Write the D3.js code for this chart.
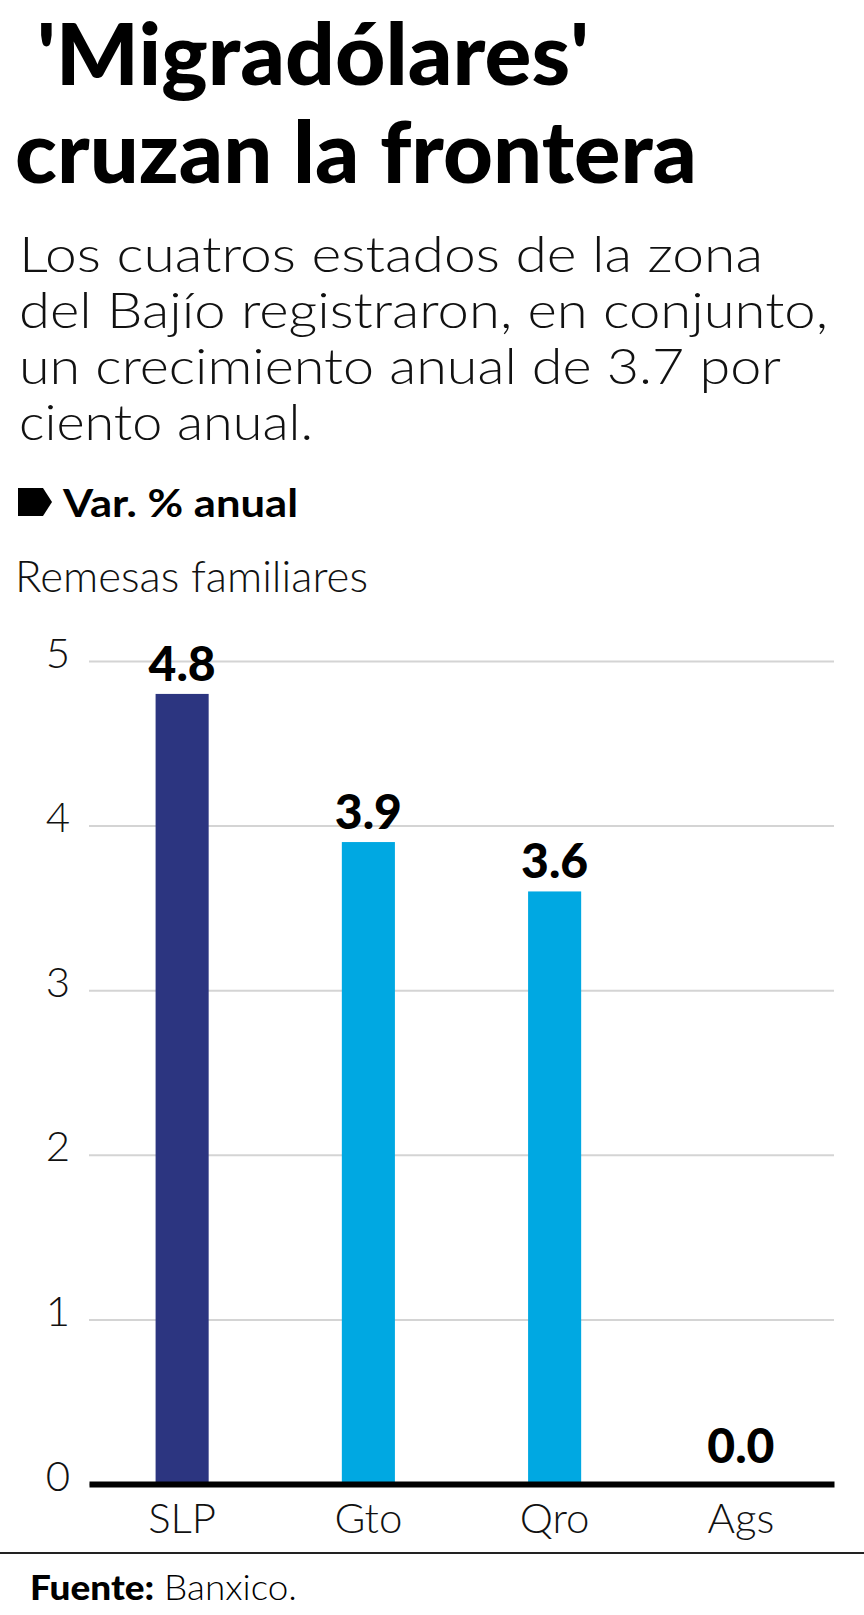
<!DOCTYPE html>
<html>
<head>
<meta charset="utf-8">
<script src="https://cdn.jsdelivr.net/npm/d3@7"></script>
<style>
  html, body { margin: 0; padding: 0; background: #fff; }
  svg { display: block; }
  text { font-family: Lato, "Open Sans", sans-serif; }
</style>
</head>
<body>
<script>
// ---- data ----
const categories = ["SLP", "Gto", "Qro", "Ags"];
const values = [4.8, 3.9, 3.6, 0.0];
const barColors = ["#2c3580", "#00a8e2", "#00a8e2", "#00a8e2"];
const yTicks = [0, 1, 2, 3, 4, 5];
const titleLines = ["'Migradólares'", "cruzan la frontera"];
const subtitleLines = [
  "Los cuatros estados de la zona",
  "del Bajío registraron, en conjunto,",
  "un crecimiento anual de 3.7 por",
  "ciento anual."
];
const legendLabel = "Var. % anual";
const chartLabel = "Remesas familiares";
const sourceBold = "Fuente:";
const sourceText = " Banxico.";

// ---- layout ----
const W = 864, H = 1615;
const plot = { left: 89, right: 834, top: 661, bottom: 1484 };

const svg = d3.select("body").append("svg")
  .attr("width", W).attr("height", H);

svg.append("rect").attr("width", W).attr("height", H).attr("fill", "#fff");

// Title
const titleX = [37, 15], titleY = [85, 183], titleW = [552, 682];
svg.selectAll("text.title").data(titleLines).join("text")
  .attr("class", "title")
  .attr("x", (d, i) => titleX[i])
  .attr("y", (d, i) => titleY[i])
  .attr("textLength", (d, i) => titleW[i])
  .attr("lengthAdjust", "spacingAndGlyphs")
  .attr("font-size", 86)
  .attr("font-weight", 900)
  .attr("fill", "#000")
  .text(d => d);

// Subtitle
const subW = [744, 809, 762, 294];
svg.selectAll("text.sub").data(subtitleLines).join("text")
  .attr("class", "sub")
  .attr("x", 19)
  .attr("y", (d, i) => 272 + i * 56)
  .attr("textLength", (d, i) => subW[i])
  .attr("lengthAdjust", "spacingAndGlyphs")
  .attr("font-size", 50)
  .attr("font-weight", 300)
  .attr("fill", "#111")
  .text(d => d);

// Legend marker + label
svg.append("path")
  .attr("d", "M18,488 L43,488 L52,502 L43,516 L18,516 Z")
  .attr("fill", "#000");
svg.append("text")
  .attr("x", 63).attr("y", 517)
  .attr("textLength", 235)
  .attr("lengthAdjust", "spacingAndGlyphs")
  .attr("font-size", 39).attr("font-weight", 700)
  .attr("fill", "#000")
  .text(legendLabel);

svg.append("text")
  .attr("x", 15).attr("y", 592)
  .attr("textLength", 353)
  .attr("lengthAdjust", "spacingAndGlyphs")
  .attr("font-size", 44).attr("font-weight", 300)
  .attr("fill", "#111")
  .text(chartLabel);

// Scales
const x = d3.scaleBand()
  .domain(categories)
  .range([plot.left, plot.right])
  .paddingInner(0.715)
  .paddingOuter(0.3575);
const y = d3.scaleLinear()
  .domain([0, 5])
  .range([plot.bottom, plot.top]);

// Gridlines + y labels
const yAxis = svg.append("g")
  .attr("transform", `translate(${plot.left},0)`)
  .call(d3.axisLeft(y).tickValues(yTicks).tickFormat(d3.format("d"))
    .tickSize(-(plot.right - plot.left)).tickPadding(19));
yAxis.select(".domain").remove();
yAxis.selectAll(".tick line").attr("stroke", "#d4d4d4").attr("stroke-width", 2);
yAxis.selectAll(".tick text")
  .attr("dy", 6)
  .attr("font-size", 42).attr("font-weight", 300)
  .attr("font-family", "Lato, sans-serif")
  .attr("fill", "#111");

// Bars
svg.selectAll("rect.bar").data(values).join("rect")
  .attr("class", "bar")
  .attr("x", (d, i) => x(categories[i]))
  .attr("width", x.bandwidth())
  .attr("y", d => y(d))
  .attr("height", d => y(0) - y(d))
  .attr("fill", (d, i) => barColors[i]);

// Value labels
svg.selectAll("text.val").data(values).join("text")
  .attr("class", "val")
  .attr("x", (d, i) => x(categories[i]) + x.bandwidth() / 2)
  .attr("y", d => Math.min(y(d), y(0) - 8) - 13)
  .attr("text-anchor", "middle")
  .attr("font-size", 48).attr("font-weight", 900)
  .attr("fill", "#000")
  .text(d => d3.format(".1f")(d));

// X axis
const xAxis = svg.append("g")
  .attr("transform", `translate(0,${y(0)})`)
  .call(d3.axisBottom(x).tickSize(0).tickSizeOuter(0).tickPadding(0));
xAxis.select(".domain").attr("stroke", "#000").attr("stroke-width", 6);
xAxis.selectAll(".tick text")
  .attr("y", 49).attr("dy", 0)
  .attr("font-size", 42).attr("font-weight", 300)
  .attr("font-family", "Lato, sans-serif")
  .attr("fill", "#111");

// Bottom rule + source
svg.append("line")
  .attr("x1", 0).attr("x2", W)
  .attr("y1", 1553).attr("y2", 1553)
  .attr("stroke", "#222").attr("stroke-width", 2);

const src = svg.append("text")
  .attr("x", 30).attr("y", 1600)
  .attr("font-size", 35)
  .attr("textLength", 267)
  .attr("lengthAdjust", "spacingAndGlyphs")
  .attr("fill", "#000");
src.append("tspan").attr("font-weight", 900).text(sourceBold);
src.append("tspan").attr("font-weight", 300).text(sourceText);
</script>
</body>
</html>
